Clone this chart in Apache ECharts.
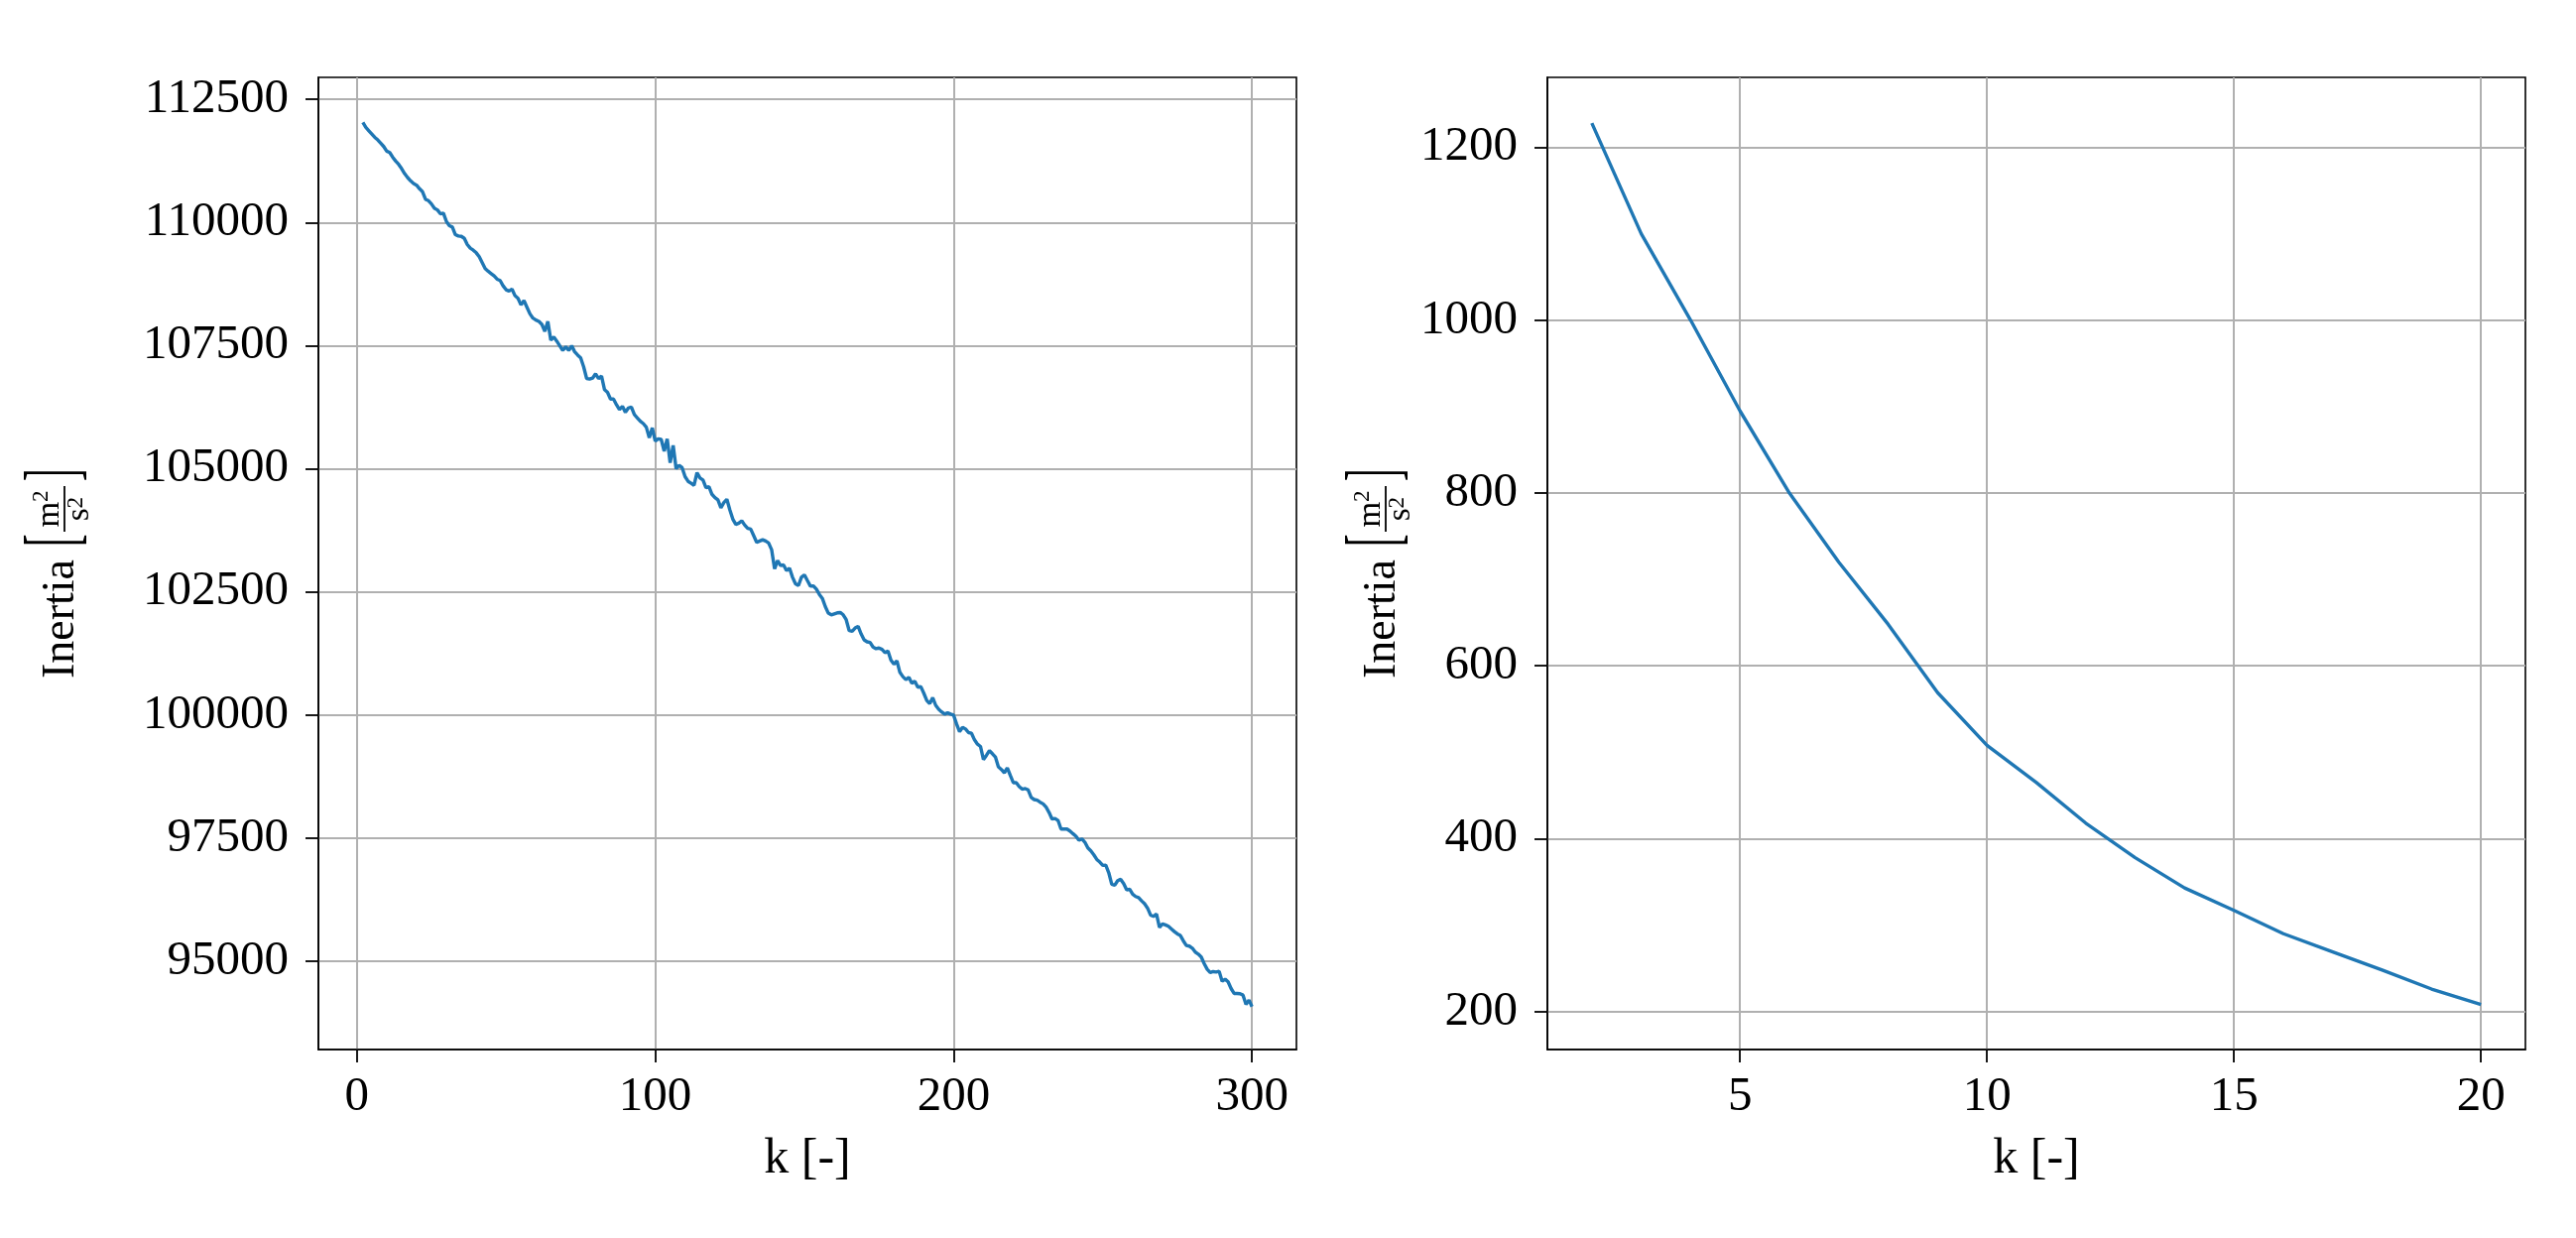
<!DOCTYPE html>
<html>
<head>
<meta charset="utf-8">
<script src="https://cdn.jsdelivr.net/npm/echarts@6/dist/echarts.min.js"></script>
<style>
html,body{margin:0;padding:0;background:#fff;}
#chart{width:2597px;height:1248px;}
</style>
</head>
<body>
<div id="chart"></div>
<script>
// ---------- data ----------
const kLeftFirst = 2; // k runs 2..300 for the left panel
const inertiaLeft = [
112031,111930,111863,111796,111729,111676,111609,111542,111448,111421,
111327,111247,111180,111093,110992,110912,110845,110791,110758,110684,
110624,110470,110443,110376,110289,110255,110175,110188,110021,109934,
109907,109753,109726,109719,109679,109552,109478,109438,109384,109304,
109183,109063,109009,108962,108915,108848,108822,108714,108634,108607,
108647,108513,108460,108326,108413,108279,108145,108058,108018,107991,
107931,107790,107991,107609,107676,107589,107495,107401,107475,107401,
107495,107374,107307,107250,107070,106833,106819,106839,106927,106830,
106880,106604,106550,106415,106415,106300,106199,106267,106145,106233,
106253,106098,106031,105963,105916,105842,105626,105828,105559,105606,
105593,105357,105606,105121,105471,105000,105067,105020,104838,104743,
104703,104662,104919,104811,104770,104615,104636,104480,104413,104366,
104204,104312,104379,104164,103975,103867,103894,103941,103853,103786,
103772,103638,103503,103530,103557,103530,103490,103355,102964,103133,
103031,103045,102930,102980,102796,102661,102627,102796,102843,102728,
102614,102620,102553,102447,102366,102199,102066,102032,102052,102072,
102079,102032,101932,101711,101698,101765,101798,101644,101524,101484,
101471,101377,101344,101357,101330,101263,101297,101110,101030,101096,
100862,100776,100715,100762,100642,100683,100562,100575,100441,100294,
100227,100348,100194,100114,100060,100014,100040,100014,99993,99813,
99659,99746,99713,99640,99626,99492,99405,99358,99091,99178,
99272,99211,99145,98944,98891,98824,98924,98770,98623,98623,
98543,98490,98503,98476,98322,98280,98266,98226,98192,98125,
98017,97883,97896,97856,97681,97681,97681,97641,97587,97534,
97453,97480,97413,97298,97238,97157,97063,97009,96942,96949,
96794,96559,96539,96633,96660,96573,96445,96458,96358,96311,
96290,96223,96163,96075,95934,95907,95954,95686,95753,95733,
95706,95652,95598,95551,95518,95410,95316,95303,95262,95182,
95141,95081,94947,94832,94765,94785,94778,94792,94590,94631,
94577,94442,94342,94342,94335,94308,94120,94208,94073
];
const kRight = [2,3,4,5,6,7,8,9,10,11,12,13,14,15,16,17,18,19,20];
const inertiaRight = [1228,1100,1000,895,800,720,648,569,508,465,418,378,343,317,290,269,248,226,208];

const leftXTicks = [0,100,200,300];
const leftYTicks = [95000,97500,100000,102500,105000,107500,110000,112500];
const rightXTicks = [5,10,15,20];
const rightYTicks = [200,400,600,800,1000,1200];

const xLabelText = 'k [-]';
const yLabelWord = 'Inertia';

// ---------- styles ----------
const FONT = '"Liberation Serif", "DejaVu Serif", serif';
const LINE_COLOR = '#1f77b4';
const GRID_COLOR = '#b0b0b0';

const leftData = inertiaLeft.map((v, i) => [kLeftFirst + i, v]);
const rightData = kRight.map((k, i) => [k, inertiaRight[i]]);
const plain = v => String(v);

function xAxis(gridIndex, min, max, ticks) {
  return {
    type: 'value', gridIndex, min, max,
    axisLine: {show: true, onZero: false, lineStyle: {color: '#000', width: 1.6}},
    axisTick: {show: true, inside: false, length: 13, customValues: ticks, lineStyle: {color: '#000', width: 1.8}},
    axisLabel: {show: true, customValues: ticks, formatter: plain, margin: 24, color: '#000', fontFamily: FONT, fontSize: 49},
    splitLine: {show: true, lineStyle: {color: GRID_COLOR, width: 2}},
    name: xLabelText, nameLocation: 'middle', nameGap: 86,
    nameTextStyle: {color: '#000', fontFamily: FONT, fontSize: 50}
  };
}
function yAxis(gridIndex, min, max, ticks) {
  return {
    type: 'value', gridIndex, min, max,
    axisLine: {show: true, onZero: false, lineStyle: {color: '#000', width: 1.6}},
    axisTick: {show: true, inside: false, length: 13, customValues: ticks, lineStyle: {color: '#000', width: 1.8}},
    axisLabel: {show: true, customValues: ticks, formatter: plain, margin: 30, color: '#000', fontFamily: FONT, fontSize: 49},
    splitLine: {show: true, lineStyle: {color: GRID_COLOR, width: 2}}
  };
}

function txt(x, y, text, size, extra) {
  return Object.assign({
    type: 'text', x, y,
    style: {text, font: size + 'px ' + FONT, fill: '#000', align: 'left', verticalAlign: 'middle',
            textAlign: 'left', textVerticalAlign: 'middle'}
  }, extra || {});
}
// rotated y-axis title: "Inertia [m^2 / s^2]"
function yLabel(baseX) {
  return {
    type: 'group', x: baseX, y: 684, rotation: Math.PI / 2,
    children: [
      txt(0, -15.5, yLabelWord, 46),
      txt(133, -20.1, '[', 76, {scaleX: 0.5}),
      txt(152.4, -27.1, 'm', 33),
      txt(178.1, -34.8, '2', 23),
      {type: 'line', shape: {x1: 148, y1: -12, x2: 194, y2: -12}, style: {stroke: '#000', lineWidth: 1.8}},
      txt(158.8, 2.9, 's', 33),
      txt(171.6, -0.2, '2', 23),
      txt(199, -20.1, ']', 76, {scaleX: 0.5})
    ]
  };
}

const chart = echarts.init(document.getElementById('chart'), null, {renderer: 'canvas'});
chart.setOption({
  animation: false,
  backgroundColor: '#fff',
  grid: [
    {left: 321, top: 78, width: 986, height: 980, show: true, borderColor: '#000', borderWidth: 1.6, backgroundColor: 'transparent'},
    {left: 1560, top: 78, width: 986, height: 980, show: true, borderColor: '#000', borderWidth: 1.6, backgroundColor: 'transparent'}
  ],
  xAxis: [
    xAxis(0, -12.9, 314.9, leftXTicks),
    xAxis(1, 1.1, 20.9, rightXTicks)
  ],
  yAxis: [
    yAxis(0, 93203, 112947, leftYTicks),
    yAxis(1, 156, 1281, rightYTicks)
  ],
  series: [
    {type: 'line', xAxisIndex: 0, yAxisIndex: 0, data: leftData, showSymbol: false, symbol: 'none',
     lineStyle: {color: LINE_COLOR, width: 3.4}, itemStyle: {color: LINE_COLOR}},
    {type: 'line', xAxisIndex: 1, yAxisIndex: 1, data: rightData, showSymbol: false, symbol: 'none',
     lineStyle: {color: LINE_COLOR, width: 3.4}, itemStyle: {color: LINE_COLOR}}
  ],
  graphic: [yLabel(77), yLabel(1409)]
});
</script>
</body>
</html>
